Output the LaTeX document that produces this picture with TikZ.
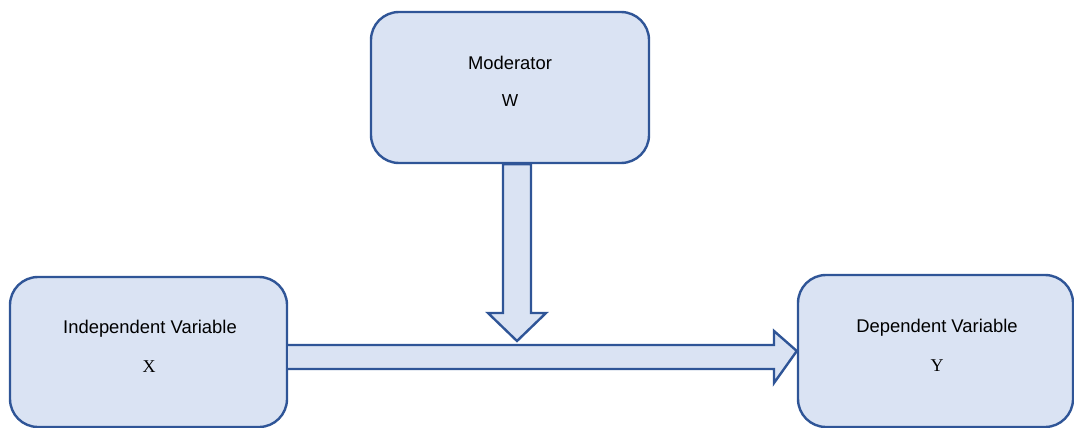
\documentclass[tikz,border=0pt]{standalone}
\usepackage{fontspec}
\setmainfont{Liberation Sans}
\newfontfamily\serifx{Liberation Serif}
\usetikzlibrary{calc}
\definecolor{boxfill}{HTML}{DAE3F3}
\definecolor{boxline}{HTML}{2F5597}
\begin{document}
\begin{tikzpicture}[x=0.75pt,y=-0.75pt,
  varbox/.style={draw=boxline,fill=boxfill,line width=1.8pt,rounded corners=21pt,inner sep=0pt},
  lbl/.style={font=\fontsize{13.8}{16}\selectfont,inner sep=0pt,anchor=center},
  letter/.style={font=\fontsize{13}{15}\selectfont,inner sep=0pt,anchor=center},
  serifletter/.style={font=\serifx\fontsize{13.5}{15}\selectfont,inner sep=0pt,anchor=center},
  blockarrow/.style={draw=boxline,fill=boxfill,line width=1.8pt,line join=miter}]
\useasboundingbox (0,0) rectangle (1074,428);
% boxes
\node[varbox,minimum width=208.5pt,minimum height=113.25pt] (m) at (510,87.5) {};
\node[varbox,minimum width=207.75pt,minimum height=112.5pt] (x) at (148.5,352) {};
\node[varbox,minimum width=206.25pt,minimum height=114pt] (y) at (935.5,351) {};
% texts
\node[lbl] (mt) at (510,63) {Moderator};
\node[letter] (mw) at (510,101) {W};
\node[lbl] (xt) at (150,329) {Independent Variable};
\node[serifletter] (xx) at (149,367) {X};
\node[lbl] (yt) at (937,328) {Dependent Variable};
\node[serifletter] (yy) at (937,366) {Y};
% horizontal block arrow X -> Y
\draw[blockarrow]
  ($(x.east)+(0,-7)$) -- (774,345) -- (774,331) -- (y.west) -- (774,383) -- (774,369) -- ($(x.east)+(0,17)$);
% vertical block arrow W -> X--Y arrow
\coordinate (tip) at (517,341);
\draw[blockarrow]
  ($(m.south)+(-7,0)$) -- (503,313) -- (488,313) -- (tip) -- (546,313) -- (531,313) -- ($(m.south)+(21,0)$) -- cycle;
\end{tikzpicture}
\end{document}
